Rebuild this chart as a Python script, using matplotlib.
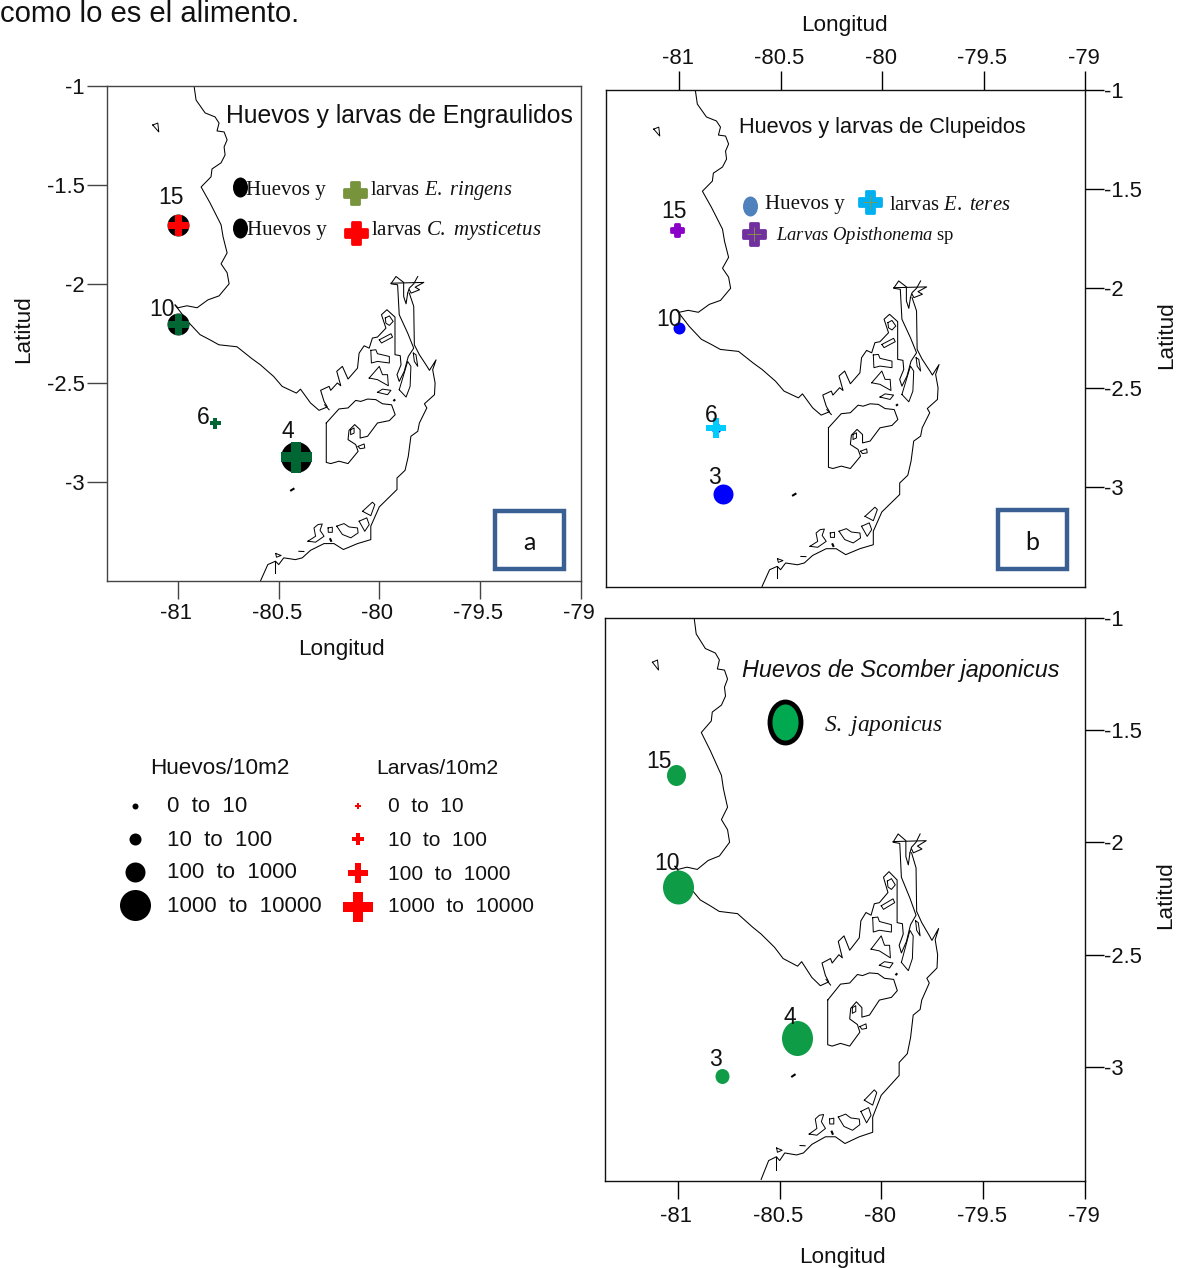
import matplotlib
matplotlib.use("Agg")
import matplotlib.pyplot as plt
from matplotlib.markers import MarkerStyle
from matplotlib.path import Path
from matplotlib.patches import Rectangle
from matplotlib.transforms import Affine2D, ScaledTranslation

plt.rcParams['font.family'] = ['Liberation Sans', 'DejaVu Sans']
plt.rcParams['mathtext.fontset'] = 'custom'
plt.rcParams['mathtext.rm'] = 'Liberation Serif'
plt.rcParams['mathtext.it'] = 'Liberation Serif:italic'

# ---------- map data (lon, lat) ----------
coast_lon = [-80.920,-80.910,-80.865,-80.816,-80.796,-80.806,-80.771,-80.756,-80.771,-80.766,-80.786,-80.831,-80.836,-80.885,
             -80.841,-80.786,-80.776,-80.756,-80.786,-80.756,-80.746,-80.796,-80.851,-80.905,-80.955,-81.000,-81.015,-80.950,
             -80.890,-80.841,-80.797,-80.707,-80.633,-80.591,-80.525,-80.483,-80.412,-80.392,-80.342,-80.300,-80.259,-80.275,
             -80.292,-80.250,-80.242,-80.209,-80.192,-80.212,-80.184,-80.156,-80.109,-80.101,-80.076,-80.051,-80.035,-80.010,
             -79.968,-79.990,-79.963,-79.923,-79.923,-79.897,-79.893,-79.913,-79.902,-79.877,-79.857,-79.830,-79.860,-79.902,
             -79.910,-79.943,-79.918,-79.880,-79.880,-79.868,-79.860]
coast_lat = [-1.000,-1.071,-1.136,-1.156,-1.187,-1.227,-1.232,-1.272,-1.308,-1.348,-1.388,-1.419,-1.459,-1.510,
             -1.590,-1.701,-1.762,-1.843,-1.898,-1.943,-1.999,-2.060,-2.080,-2.120,-2.110,-2.120,-2.105,-2.191,
             -2.256,-2.282,-2.307,-2.317,-2.377,-2.408,-2.467,-2.517,-2.551,-2.531,-2.601,-2.638,-2.621,-2.593,
             -2.537,-2.517,-2.537,-2.500,-2.514,-2.441,-2.416,-2.480,-2.425,-2.349,-2.312,-2.324,-2.273,-2.268,
             -2.223,-2.155,-2.130,-2.167,-2.357,-2.362,-2.408,-2.458,-2.492,-2.441,-2.366,-2.324,-2.248,-2.155,
             -2.004,-1.999,-1.962,-1.992,-2.063,-2.100,-2.046]
south_lon = [-79.852,-79.830,-79.827,-79.802,-79.764,-79.752,-79.719,-79.736,-79.724,-79.727,-79.777,-79.765,-79.802,-79.810,
             -79.844,-79.857,-79.873,-79.913,-79.913,-80.001,-80.043,-80.043,-80.109,-80.179,-80.226,-80.275,-80.342,-80.383,
             -80.417,-80.475,-80.500,-80.516,-80.554,-80.591]
south_lat = [-2.046,-2.113,-2.307,-2.357,-2.416,-2.436,-2.383,-2.433,-2.500,-2.559,-2.605,-2.626,-2.702,-2.744,
             -2.769,-2.870,-2.941,-2.980,-3.038,-3.126,-3.223,-3.291,-3.311,-3.341,-3.311,-3.311,-3.345,-3.383,
             -3.392,-3.383,-3.417,-3.400,-3.417,-3.501]
puna_lon = [-80.264,-80.201,-80.156,-80.118,-80.093,-80.059,-80.018,-79.985,-79.940,-79.922,-79.951,-80.010,-80.059,-80.096,
            -80.096,-80.123,-80.151,-80.156,-80.118,-80.106,-80.156,-80.201,-80.242,-80.264,-80.264]
puna_lat = [-2.702,-2.631,-2.626,-2.588,-2.593,-2.581,-2.584,-2.605,-2.610,-2.660,-2.690,-2.702,-2.769,-2.778,
            -2.736,-2.710,-2.739,-2.786,-2.811,-2.845,-2.907,-2.895,-2.907,-2.901,-2.702]
closed_islands = [
    ([-81.125,-81.100,-81.095],[-1.197,-1.187,-1.232]),
    ([-80.143,-80.126,-80.126,-80.143],[-2.736,-2.727,-2.753,-2.761]),
    ([-80.106,-80.076,-80.073,-80.096],[-2.820,-2.808,-2.828,-2.832]),
    ([-79.971,-79.951,-79.932,-79.951,-79.968],[-2.172,-2.161,-2.189,-2.209,-2.198]),
    ([-80.001,-79.943,-79.935,-79.990],[-2.282,-2.251,-2.268,-2.298]),
    ([-80.043,-80.018,-80.010,-79.951,-79.951,-80.010,-80.040],[-2.335,-2.332,-2.352,-2.366,-2.399,-2.391,-2.399]),
    ([-80.051,-80.001,-79.985,-79.960,-79.956,-80.010],[-2.475,-2.416,-2.458,-2.458,-2.514,-2.483]),
    ([-80.010,-79.985,-79.943,-79.960],[-2.547,-2.531,-2.537,-2.559]),
    ([-79.902,-79.860,-79.844,-79.848,-79.868],[-2.534,-2.391,-2.416,-2.517,-2.571]),
    ([-79.832,-79.819,-79.810,-79.827],[-2.349,-2.357,-2.416,-2.391]),
    ([-80.084,-80.035,-80.023,-80.043],[-3.148,-3.102,-3.114,-3.170]),
    ([-80.101,-80.063,-80.051,-80.073],[-3.198,-3.181,-3.215,-3.249]),
    ([-80.212,-80.176,-80.151,-80.109,-80.106,-80.142,-80.184],[-3.223,-3.210,-3.227,-3.232,-3.257,-3.282,-3.265]),
    ([-80.255,-80.234,-80.234,-80.254],[-3.232,-3.228,-3.254,-3.254]),
    ([-80.355,-80.317,-80.325,-80.305,-80.284,-80.295,-80.275,-80.317],[-3.299,-3.274,-3.232,-3.215,-3.212,-3.244,-3.274,-3.304]),
    ([-80.515,-80.488,-80.511],[-3.361,-3.371,-3.380]),
]
open_bits = [
    ([-79.943,-79.780,-79.823,-79.801,-79.843,-79.852],[-1.996,-1.992,-2.016,-2.029,-2.046,-2.029]),
    ([-79.810,-79.830,-79.852,-79.860],[-1.962,-1.999,-2.021,-2.046]),
    ([-80.272,-80.250],[-2.610,-2.635]),
    ([-80.516,-80.516],[-3.400,-3.459]),
    ([-80.400,-80.375],[-3.350,-3.351]),
]
thick_bits = [
    ([-80.443,-80.422],[-3.045,-3.032]),
    ([-79.931,-79.922],[-2.591,-2.583]),
    ([-80.246,-80.238],[-3.284,-3.302]),
]

# ---------- stations ----------
a_lon = [-81.0, -81.0, -80.816, -80.412]
a_lat = [-1.70, -2.20, -2.70, -2.872]
a_names = ['15', '10', '6', '4']
b_lon = [-81.01, -81.0, -80.816, -80.782]
b_lat = [-1.705, -2.20, -2.703, -3.035]
b_names = ['15', '10', '6', '3']
c_lon = [-81.01, -81.0, -80.416, -80.783]
c_lat = [-1.70, -2.20, -2.87, -3.04]
c_names = ['15', '10', '4', '3']

lon_ticks = [-81, -80.5, -80, -79.5, -79]
lon_labels = ['-81', '-80.5', '-80', '-79.5', '-79']
lat_ticks = [-1, -1.5, -2, -2.5, -3]
lat_labels = ['-1', '-1.5', '-2', '-2.5', '-3']
key_labels = ['0  to  10', '10  to  100', '100  to  1000', '1000  to  10000']

W, H = 1183, 1268
fig = plt.figure(figsize=(W/100, H/100), dpi=100)
PT = 0.72
SANS = 'Liberation Sans'
SERIF = 'Liberation Serif'

def make_axes(x0, x1, y0, y1, xlim, ylim, spine):
    ax = fig.add_axes([x0/W, 1-y1/H, (x1-x0)/W, (y1-y0)/H])
    ax.set_xlim(*xlim); ax.set_ylim(*ylim)
    ax.set_xticks(lon_ticks); ax.set_xticklabels(lon_labels)
    ax.set_yticks(lat_ticks); ax.set_yticklabels(lat_labels)
    for s in ax.spines.values():
        s.set_linewidth(1.0); s.set_color(spine)
    for pl in (coast_lon, coast_lat), (south_lon, south_lat), (puna_lon, puna_lat):
        ax.plot(pl[0], pl[1], color='black', lw=0.75)
    for lo, la in closed_islands:
        ax.plot(lo+lo[:1], la+la[:1], color='black', lw=0.7)
    for lo, la in open_bits:
        ax.plot(lo, la, color='black', lw=0.75)
    for lo, la in thick_bits:
        ax.plot(lo, la, color='black', lw=1.5, solid_capstyle='butt')
    return ax

def nudge(ax, dx_px, dy_px):
    off = ScaledTranslation(dx_px/100, dy_px/100, fig.dpi_scale_trans)
    for lab in ax.get_xticklabels():
        lab.set_transform(lab.get_transform() + off)

axa = make_axes(107, 581, 86, 581, (-81.352, -79.0), (-3.5, -1.0), '#444444')
axa.tick_params(axis='both', length=14.5, width=1.0, labelsize=15.8, pad=1.5, color='#444444', labelcolor='#111111')
axa.tick_params(axis='x', length=13, pad=2.7)
axb = make_axes(606, 1085, 90, 587, (-81.36, -79.0), (-3.504, -1.0), '#111111')
axb.xaxis.tick_top(); axb.yaxis.tick_right()
axb.tick_params(axis='both', length=14, width=1.0, labelsize=15.8, pad=1, labelcolor='#111111')
axb.tick_params(axis='y', pad=0)
axc = make_axes(605, 1085, 618, 1181, (-81.358, -79.0), (-3.508, -1.0), '#111111')
axc.yaxis.tick_right()
axc.tick_params(axis='both', length=14, width=1.0, labelsize=15.8, pad=1, labelcolor='#111111')
axc.tick_params(axis='y', pad=0)
axc.tick_params(axis='x', length=13, pad=4.8)
nudge(axa, -2, 0); nudge(axb, -1.5, 0); nudge(axc, -1.5, 0)

ov = fig.add_axes([0, 0, 1, 1], zorder=10)
ov.set_xlim(0, W); ov.set_ylim(H, 0); ov.axis('off'); ov.patch.set_alpha(0)

def ellipse_marker(w, h):
    return Path.unit_circle().transformed(Affine2D().scale(w, h))

def egg(ax, lon, lat, w, color='black', h=None, mec='none', mew=0.0, z=5):
    h = h or w
    ax.plot([lon], [lat], marker=ellipse_marker(w, h), ms=max(w, h)*PT, color=color,
            mec=mec, mew=mew, ls='none', zorder=z, clip_on=False)

def plus(ax, lon, lat, w, color, round_=False, z=6):
    m = MarkerStyle('P', joinstyle='round') if round_ else 'P'
    ax.plot([lon], [lat], marker=m, ms=w*PT, color=color, mec=color if round_ else 'none',
            mew=2.0 if round_ else 0.0, ls='none', zorder=z, clip_on=False)

def hair(x, y, color):
    ov.plot([x], [y], marker='+', ms=14*PT, mew=0.6, color=color, ls='none', zorder=9)

def label(x, y, s, size=15.8, family=SANS, ha='center', rot=0, style='normal', color='#111111'):
    if rot:
        x, y = x + 1, y - 2
    else:
        y = y + 2
    ov.text(x, y, s, fontsize=size, family=family, ha=ha, va='center', rotation=rot, style=style, color=color)

# --- text above panels ---
label(0, 12, 'como lo es el alimento.', size=21.1, ha='left')

# --- panel a ---
dark_green = '#006633'
for (lo, la, ew, pw, col) in [(a_lon[0], a_lat[0], 22, 21, '#FF0000'), (a_lon[1], a_lat[1], 22, 21, dark_green),
                              (a_lon[3], a_lat[3], 31, 31, dark_green)]:
    egg(axa, lo, la, ew)
    plus(axa, lo, la, pw, col)
plus(axa, a_lon[2], a_lat[2], 11, dark_green)
for (x, y), s in zip([(171, 196), (162, 307), (203, 415), (288, 430)], a_names):
    label(x, y, s, size=16.5)
label(399, 114, 'Huevos y larvas de Engraulidos', size=17.8)
egg(ov, 240, 187, 15, h=20)
egg(ov, 240, 228, 15, h=20)
label(246, 189, 'Huevos y', size=15, family=SERIF, ha='left')
label(247, 229, 'Huevos y', size=15, family=SERIF, ha='left')
plus(ov, 355, 193, 23, '#77933C', True)
plus(ov, 356, 233, 23, '#FF0000', True)
label(370, 189, r'larvas $\mathit{E.\ ringens}$', size=14.8, family=SERIF, ha='left')
label(371, 229, r'larvas $\mathit{C.\ mysticetus}$', size=15, family=SERIF, ha='left')

# --- panel b ---
egg(axb, b_lon[0], b_lat[0], 10, '#0000FF')
plus(axb, b_lon[0], b_lat[0], 12, '#8A00C8', True)
egg(axb, b_lon[1], b_lat[1], 12, '#0000FF')
egg(axb, b_lon[2], b_lat[2], 10, '#0000FF')
plus(axb, b_lon[2], b_lat[2], 20, '#00CCFF')
egg(axb, b_lon[3], b_lat[3], 20, '#0000FF')
for (x, y), s in zip([(674, 210), (669, 317), (711, 413), (714, 476)], b_names):
    label(x, y, s, size=16.5)
label(882, 126, 'Huevos y larvas de Clupeidos', size=15.7)
egg(ov, 750, 206, 15, '#4F81BD', h=20)
label(765, 203, 'Huevos y', size=15, family=SERIF, ha='left')
plus(ov, 870, 202, 23, '#00B0F0', True)
hair(870, 202, '#8A9A3C')
label(889, 203, r'larvas $\mathit{E.\ teres}$', size=14.9, family=SERIF, ha='left')
plus(ov, 754, 234, 23, '#7030A0', True)
hair(754, 234, '#8A9A3C')
label(776, 233, r'$\mathit{Larvas\ Opisthonema}$ sp', size=13.4, family=SERIF, ha='left')

# --- panel c ---
green = '#0E9C47'
egg(axc, c_lon[0], c_lat[0], 19, green, h=21)
egg(axc, c_lon[1], c_lat[1], 31, green, h=34)
egg(axc, c_lon[2], c_lat[2], 31, green, h=35)
egg(axc, c_lon[3], c_lat[3], 14, green, h=15)
for (x, y), s in zip([(659, 760), (667, 862), (790, 1015), (715, 1058)], c_names):
    label(x, y, s, size=16.5)
label(742, 668, 'Huevos de Scomber japonicus', size=16.8, ha='left', style='italic')
egg(ov, 785, 722, 31, '#00A84F', h=41, mec='black', mew=3.5)
label(824, 724, r'$\mathit{S.\ japonicus}$', size=16.8, family=SERIF, ha='left')

# --- inset letter boxes ---
for (x0, y0, x1, y1, s) in [(495, 511, 564, 569, 'a'), (998, 510, 1067, 569, 'b')]:
    ov.add_patch(Rectangle((x0, y0), x1-x0, y1-y0, fill=False, ec='#3A5F92', lw=3.2))
    label((x0+x1)/2, (y0+y1)/2+1, s, size=18, family='Lato')

# --- axis titles ---
label(341, 647, 'Longitud', size=16.2)
label(844, 23, 'Longitud', size=16.2)
label(842, 1256, 'Longitud', size=16.2)
label(23, 331, 'Latitud', rot=90, size=16.2)
label(1166, 337, 'Latitud', rot=90, size=16.2)
label(1165, 897, 'Latitud', rot=90, size=16.2)

# --- size key ---
label(220, 767, 'Huevos/10m2', size=16.2)
label(437, 767, 'Larvas/10m2', size=15.2)
egg(ov, 135, 806, 6); egg(ov, 135, 839, 12); egg(ov, 135, 872, 20); egg(ov, 135, 905, 31)
plus(ov, 358, 806, 6, '#FF0000'); plus(ov, 358, 839, 12, '#FF0000')
plus(ov, 358, 873, 20, '#FF0000'); plus(ov, 358, 907, 30, '#FF0000')
for y, s in zip([804, 838, 871, 904], key_labels):
    label(167, y, s, ha='left', size=16.0)
for y, s in zip([805, 839, 872, 905], key_labels):
    label(388, y, s, ha='left', size=15.0)

fig.savefig('out.png', dpi=100)
